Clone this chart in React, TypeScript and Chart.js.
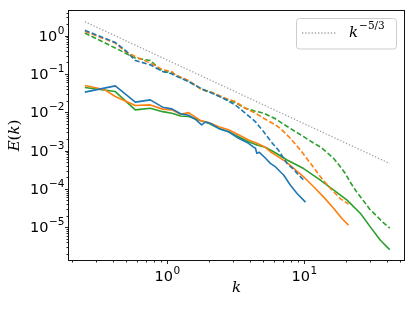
import { useEffect, useRef } from "react";
import { Chart, registerables } from "chart.js";

Chart.register(...registerables);

// ---- data ----
const kBlueSolid = [0.25, 0.417, 0.584, 0.751, 0.924, 1.08, 1.25, 1.43, 1.6, 1.78, 1.9, 2.1, 2.37, 2.8, 3.31, 3.92, 4.24, 4.4, 4.5, 4.7, 5.19, 5.65, 6.14, 7.06, 7.9, 8.85, 10.2];
const eBlueSolid = [0.0336, 0.049, 0.0184, 0.0211, 0.0136, 0.0123, 0.0092, 0.0084, 0.0066, 0.0047, 0.0056, 0.005, 0.0038, 0.0031, 0.0021, 0.00155, 0.00125, 0.00115, 0.00085, 0.0009, 6.4e-4, 4.65e-4, 3.8e-4, 2.3e-4, 1.26e-4, 7.6e-5, 4.5e-5];

const kOrangeSolid = [0.25, 0.35, 0.417, 0.584, 0.751, 0.924, 1.08, 1.25, 1.43, 1.74, 2.0, 2.37, 2.8, 3.31, 3.92, 4.51, 5.19, 5.65, 6.14, 7.4, 9.88, 11.7, 13.8, 16.4, 18.8, 21.0];
const eOrangeSolid = [0.05, 0.0386, 0.0258, 0.015, 0.0156, 0.0121, 0.0116, 0.0089, 0.0098, 0.0061, 0.0054, 0.0042, 0.0035, 0.0026, 0.0019, 0.00155, 0.00122, 9.35e-4, 7.7e-4, 5.0e-4, 2.07e-4, 1.14e-4, 6.2e-5, 3.09e-5, 1.69e-5, 1.13e-5];

const kGreenSolid = [0.25, 0.417, 0.584, 0.751, 0.924, 1.08, 1.25, 1.43, 1.74, 2.0, 2.37, 2.8, 3.31, 3.92, 4.51, 5.19, 5.65, 6.14, 7.48, 9.88, 13.1, 16.4, 20.5, 25.7, 30.3, 35.9, 42];
const eGreenSolid = [0.0443, 0.0348, 0.01155, 0.0128, 0.0104, 0.00947, 0.008, 0.0078, 0.0061, 0.0052, 0.0038, 0.0031, 0.0023, 0.0017, 0.0014, 0.00122, 1.04e-3, 8.8e-4, 5.7e-4, 3.4e-4, 1.7e-4, 9.3e-5, 5.1e-5, 2.28e-5, 1.02e-5, 4.57e-6, 2.6e-6];

const kBlueDashed = [0.25, 0.417, 0.5, 0.584, 0.751, 0.924, 1.08, 1.14, 1.43, 1.79, 2.12, 2.65, 3.13, 3.71, 4.39, 5.05, 5.65, 6.5, 7.48, 8.4, 9.08, 9.9];
const eBlueDashed = [1.38, 0.668, 0.4, 0.225, 0.174, 0.116, 0.101, 0.0897, 0.0636, 0.0403, 0.0316, 0.022, 0.0156, 0.0095, 0.0057, 0.0031, 0.0018, 1.0e-3, 4.6e-4, 3.2e-4, 2.3e-4, 1.7e-4];

const kOrangeDashed = [0.25, 0.417, 0.493, 0.584, 0.751, 0.924, 1.08, 1.14, 1.43, 1.79, 2.12, 2.65, 3.13, 3.71, 4.39, 5.05, 6.14, 6.68, 7.9, 9.35, 11.1, 13.1, 15.5, 18.3, 21.0];
const eOrangeDashed = [1.3, 0.644, 0.387, 0.287, 0.193, 0.129, 0.116, 0.095, 0.0676, 0.0386, 0.0328, 0.0234, 0.0191, 0.0128, 0.0095, 0.007, 0.0047, 0.0038, 0.0021, 1.04e-3, 4.65e-4, 2.07e-4, 1.03e-4, 5.6e-5, 4.0e-5];

const kGreenDashed = [0.25, 0.417, 0.584, 0.751, 0.924, 1.08, 1.14, 1.43, 1.79, 2.12, 2.65, 3.13, 3.71, 4.39, 5.05, 6.14, 7.4, 9.88, 11.6, 13.1, 14.6, 16.4, 18.2, 19.8, 21.5, 24, 26.9, 30, 33.8, 37, 42];
const eGreenDashed = [1.18, 0.476, 0.261, 0.225, 0.116, 0.109, 0.0953, 0.0636, 0.0403, 0.0328, 0.022, 0.0179, 0.0128, 0.0107, 0.0095, 0.0068, 0.0044, 0.00231, 1.6e-3, 1.25e-3, 9.0e-4, 6.2e-4, 3.9e-4, 2.6e-4, 1.55e-4, 8.5e-5, 5.0e-5, 2.95e-5, 1.95e-5, 1.4e-5, 9.5e-6];

const kReference = [0.25, 42];
const eReference = [2.32, 4.6e-4];

// ---- axes ----
const X_MIN = 0.1916;
const X_MAX = 53.4;
const Y_MIN = 1.31e-6;
const Y_MAX = 4.69;

const xMajorTicks = [1, 10];
const xMajorExps = ["0", "1"];
const yMajorTicks = [1, 0.1, 0.01, 0.001, 0.0001, 0.00001];
const yMajorExps = ["0", "\u22121", "\u22122", "\u22123", "\u22124", "\u22125"];
const decades = [1e-6, 1e-5, 1e-4, 1e-3, 1e-2, 1e-1, 1, 10];
const minorMultipliers = [2, 3, 4, 5, 6, 7, 8, 9];

const xTitle = "k";
const legendLabelBase = "k";
const legendLabelExp = "\u22125/3";

const BLUE = "#1f77b4";
const ORANGE = "#ff7f0e";
const GREEN = "#2ca02c";
const REF = "rgba(128,128,128,0.75)";

const SANS = "'DejaVu Sans', sans-serif";
const SERIF = "'DejaVu Serif', serif";

function pairs(ks: number[], es: number[]) {
  return ks.map((k, i) => ({ x: k, y: es[i] }));
}

function drawPow(ctx: CanvasRenderingContext2D, exp: string, x: number, y: number, align: "center" | "right") {
  const base = "14.5px " + SANS;
  const small = "10.5px " + SANS;
  ctx.font = base;
  const wb = ctx.measureText("10").width;
  ctx.font = small;
  const we = ctx.measureText(exp).width;
  const total = wb + 0.6 + we;
  const x0 = align === "center" ? x - total / 2 : x - total;
  ctx.textAlign = "left";
  ctx.textBaseline = "alphabetic";
  ctx.font = base;
  ctx.fillText("10", x0, y);
  ctx.font = small;
  ctx.fillText(exp, x0 + wb + 0.6, y - 7);
}

const mplPlugin = {
  id: "mplAxes",
  afterDraw(chart: any) {
    const ctx: CanvasRenderingContext2D = chart.ctx;
    const a = chart.chartArea;
    const xs = chart.scales.x;
    const ys = chart.scales.y;
    ctx.save();

    // frame
    ctx.strokeStyle = "#111";
    ctx.lineWidth = 1;
    ctx.strokeRect(Math.round(a.left) - 0.5, Math.round(a.top) + 0.5, Math.round(a.right - a.left) + 1, Math.round(a.bottom - a.top) - 1);

    const L = Math.round(a.left) - 0.5;
    const B = Math.round(a.bottom) - 0.5;

    // ticks
    ctx.lineWidth = 0.9;
    ctx.strokeStyle = "#111";
    const xTick = (v: number, len: number) => {
      const px = xs.getPixelForValue(v);
      if (px < a.left - 0.5 || px > a.right + 0.5) return;
      const p = Math.round(px) + 0.5;
      ctx.beginPath();
      ctx.moveTo(p, B);
      ctx.lineTo(p, B + len);
      ctx.stroke();
    };
    const yTick = (v: number, len: number) => {
      const py = ys.getPixelForValue(v);
      if (py < a.top - 0.5 || py > a.bottom + 0.5) return;
      const p = Math.round(py) + 0.5;
      ctx.beginPath();
      ctx.moveTo(L, p);
      ctx.lineTo(L - len, p);
      ctx.stroke();
    };
    for (const d of decades) {
      for (const m of minorMultipliers) {
        xTick(m * d, 2);
        yTick(m * d, 2);
      }
    }
    xMajorTicks.forEach((v) => xTick(v, 3.5));
    yMajorTicks.forEach((v) => yTick(v, 3.5));

    // tick labels
    ctx.fillStyle = "#000";
    xMajorTicks.forEach((v, i) => {
      drawPow(ctx, xMajorExps[i], xs.getPixelForValue(v), a.bottom + 19.5, "center");
    });
    yMajorTicks.forEach((v, i) => {
      drawPow(ctx, yMajorExps[i], 64.5, ys.getPixelForValue(v) + 5, "right");
    });

    // axis titles
    ctx.font = "italic 15px " + SERIF;
    ctx.textAlign = "center";
    ctx.textBaseline = "alphabetic";
    ctx.fillText(xTitle, (a.left + a.right) / 2, 291.5);

    ctx.save();
    ctx.translate(19, (a.top + a.bottom) / 2);
    ctx.rotate(-Math.PI / 2);
    const parts = [
      { t: "E", f: "italic 15px " + SERIF },
      { t: "(", f: "15px " + SERIF },
      { t: "k", f: "italic 15px " + SERIF },
      { t: ")", f: "15px " + SERIF },
    ];
    let tw = 0;
    const widths = parts.map((p) => {
      ctx.font = p.f;
      const w = ctx.measureText(p.t).width;
      tw += w;
      return w;
    });
    let cx = -tw / 2;
    ctx.textAlign = "left";
    parts.forEach((p, i) => {
      ctx.font = p.f;
      ctx.fillText(p.t, cx, 0);
      cx += widths[i];
    });
    ctx.restore();

    // legend
    const lx = 296.5, ly = 18.5, lw = 100, lh = 30.5, r = 3;
    ctx.beginPath();
    ctx.moveTo(lx + r, ly);
    ctx.lineTo(lx + lw - r, ly);
    ctx.arcTo(lx + lw, ly, lx + lw, ly + r, r);
    ctx.lineTo(lx + lw, ly + lh - r);
    ctx.arcTo(lx + lw, ly + lh, lx + lw - r, ly + lh, r);
    ctx.lineTo(lx + r, ly + lh);
    ctx.arcTo(lx, ly + lh, lx, ly + lh - r, r);
    ctx.lineTo(lx, ly + r);
    ctx.arcTo(lx, ly, lx + r, ly, r);
    ctx.closePath();
    ctx.fillStyle = "rgba(255,255,255,0.8)";
    ctx.fill();
    ctx.strokeStyle = "#cccccc";
    ctx.lineWidth = 1;
    ctx.stroke();

    ctx.strokeStyle = REF;
    ctx.lineWidth = 1.3;
    ctx.setLineDash([1.3, 1.9]);
    ctx.beginPath();
    ctx.moveTo(302, 33);
    ctx.lineTo(337, 33);
    ctx.stroke();
    ctx.setLineDash([]);

    ctx.fillStyle = "#000";
    ctx.textAlign = "left";
    ctx.textBaseline = "alphabetic";
    ctx.font = "italic 15px " + SERIF;
    ctx.fillText(legendLabelBase, 349, 37);
    const kw = ctx.measureText(legendLabelBase).width;
    ctx.font = "10.5px " + SERIF;
    ctx.fillText(legendLabelExp, 349 + kw + 1, 29);

    ctx.restore();
  },
};

export default function App() {
  const ref = useRef<HTMLCanvasElement | null>(null);

  useEffect(() => {
    document.body.style.margin = "0";
    if (!ref.current) return;
    const solid = (label: string, color: string, ks: number[], es: number[]) => ({
      label,
      data: pairs(ks, es),
      borderColor: color,
      backgroundColor: color,
      borderWidth: 1.6,
      borderJoinStyle: "round" as const,
      pointRadius: 0,
      fill: false,
      tension: 0,
    });
    const dashed = (label: string, color: string, ks: number[], es: number[]) => ({
      ...solid(label, color, ks, es),
      borderDash: [5, 2.4],
      borderJoinStyle: "miter" as const,
    });
    const chart = new Chart(ref.current, {
      type: "line",
      data: {
        datasets: [
          solid("blue solid", BLUE, kBlueSolid, eBlueSolid),
          dashed("blue dashed", BLUE, kBlueDashed, eBlueDashed),
          solid("orange solid", ORANGE, kOrangeSolid, eOrangeSolid),
          dashed("orange dashed", ORANGE, kOrangeDashed, eOrangeDashed),
          solid("green solid", GREEN, kGreenSolid, eGreenSolid),
          dashed("green dashed", GREEN, kGreenDashed, eGreenDashed),
          {
            label: "k^-5/3",
            data: pairs(kReference, eReference),
            borderColor: REF,
            borderWidth: 1.3,
            borderDash: [1.3, 1.9],
            pointRadius: 0,
            fill: false,
            tension: 0,
          },
        ],
      },
      options: {
        animation: false,
        responsive: false,
        maintainAspectRatio: false,
        layout: { padding: { left: 69, top: 10, right: 11, bottom: 50 } },
        plugins: { legend: { display: false }, tooltip: { enabled: false } },
        scales: {
          x: { type: "logarithmic", display: false, min: X_MIN, max: X_MAX },
          y: { type: "logarithmic", display: false, min: Y_MIN, max: Y_MAX },
        },
      },
      plugins: [mplPlugin],
    });
    return () => chart.destroy();
  }, []);

  return (
    <div style={{ width: 415, height: 311, background: "#fff" }}>
      <canvas ref={ref} width={415} height={311} style={{ display: "block" }} />
    </div>
  );
}
